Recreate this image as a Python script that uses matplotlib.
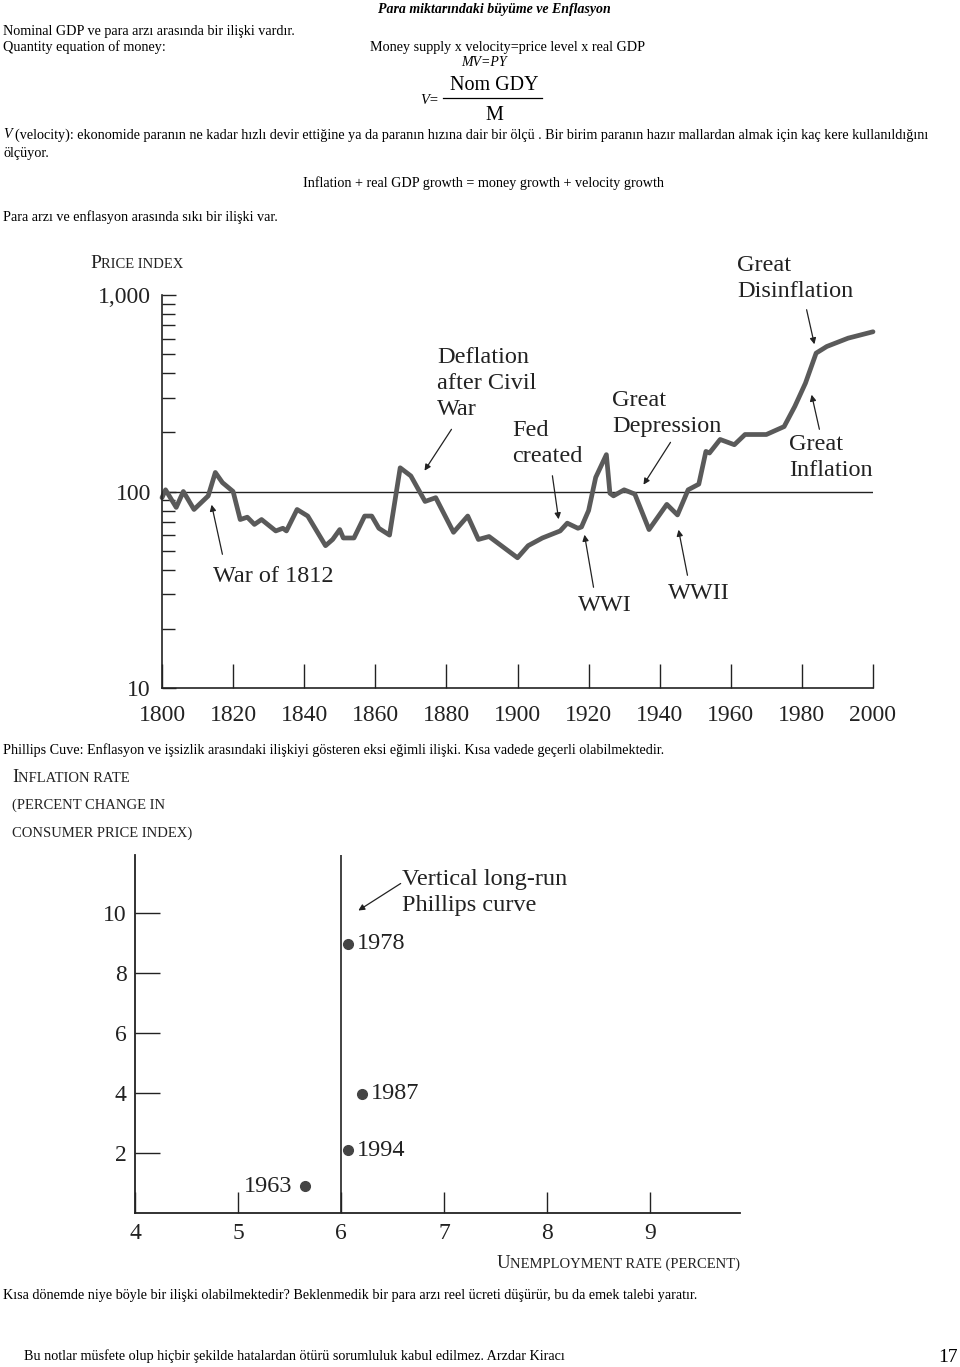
import matplotlib
matplotlib.use('Agg')
import matplotlib.pyplot as plt
from matplotlib.offsetbox import TextArea, HPacker, AnnotationBbox
from matplotlib.ticker import LogLocator, NullFormatter

plt.rcParams['font.family'] = ['Liberation Serif', 'DejaVu Serif']

# ---------------- data ----------------
price_years = [1800, 1801, 1804, 1806, 1809, 1813, 1815, 1817, 1820, 1822, 1824, 1826,
               1828, 1832, 1834, 1835, 1838, 1841, 1846, 1848, 1850, 1851, 1854, 1857,
               1859, 1861, 1864, 1867, 1870, 1874, 1877, 1882, 1886, 1889, 1892, 1900,
               1903, 1907, 1912, 1914, 1917, 1918, 1920, 1922, 1925, 1926, 1927, 1930,
               1933, 1937, 1942, 1945, 1948, 1951, 1953, 1954, 1957, 1961, 1964, 1970,
               1975, 1978, 1981, 1984, 1987, 1993, 2000]
price_index = [93, 102, 83, 100, 81, 95, 125, 111, 100, 72, 74, 68,
               72, 63, 65, 63, 81, 75, 53, 57, 64, 58, 58, 75,
               75, 65, 60, 132, 120, 89, 93, 62, 75, 57, 59, 46,
               53, 58, 63, 69, 65, 66, 80, 118, 154, 98, 95, 102,
               97, 64, 86, 76, 102, 109, 160, 157, 184, 173, 195, 195,
               214, 271, 356, 506, 547, 603, 650]
price_xticks = [1800, 1820, 1840, 1860, 1880, 1900, 1920, 1940, 1960, 1980, 2000]
price_yticks = [10, 100, 1000]
price_ytick_labels = ['10', '100', '1,000']

phillips_years = ['1963', '1978', '1987', '1994']
phillips_unemp = [5.65, 6.07, 6.2, 6.07]
phillips_infl = [0.9, 8.97, 3.97, 2.1]
phillips_xticks = [4, 5, 6, 7, 8, 9]
phillips_yticks = [2, 4, 6, 8, 10]
natural_rate = 6

# ---------------- figure ----------------
W, H = 960, 1367
fig = plt.figure(figsize=(W / 100, H / 100), dpi=100)


def fx(x):
    return x / W


def fy(y):
    return 1 - y / H


BODY = 10.2


def T(x, y, s, **kw):
    kw.setdefault('fontsize', BODY)
    kw.setdefault('va', 'center')
    return fig.text(fx(x), fy(y), s, **kw)


def smallcaps(x, y, parts, align=(0, 0.5)):
    children = [TextArea(s, textprops=dict(fontsize=sz, color='#222222'))
                for s, sz in parts]
    box = HPacker(children=children, align='baseline', pad=0, sep=0)
    ab = AnnotationBbox(box, (x, H - y), xycoords='figure pixels', frameon=False,
                        box_alignment=align, pad=0)
    fig.add_artist(ab)


def arrow(x0, y0, x1, y1):
    fig.add_artist(matplotlib.patches.FancyArrowPatch(
        (fx(x0), fy(y0)), (fx(x1), fy(y1)), transform=fig.transFigure,
        arrowstyle='-|>', mutation_scale=9, lw=0.9, color='#222222'))


# ---------------- page text ----------------
T(494, 9, 'Para miktarındaki büyüme ve Enflasyon', ha='center', fontsize=10,
  weight='bold', style='italic')
T(3, 31, 'Nominal GDP ve para arzı arasında bir ilişki vardır.')
T(3, 47, 'Quantity equation of money:')
T(508, 47, 'Money supply x velocity=price level x real GDP', ha='center')
T(484, 63, 'MV=PY', ha='center', style='italic', fontsize=10)
T(494, 85, 'Nom GDY', ha='center', fontsize=14.5)
T(494, 115, 'M', ha='center', fontsize=14.5)
T(420, 101, 'V=', style='italic', fontsize=10.5)
fig.add_artist(matplotlib.lines.Line2D([fx(443), fx(542)], [fy(98), fy(98)],
                                       transform=fig.transFigure, color='black', lw=0.9))
T(3, 135, 'V', style='italic')
T(15, 135, '(velocity): ekonomide paranın ne kadar hızlı devir ettiğine ya da paranın hızına '
  'dair bir ölçü . Bir birim paranın hazır mallardan almak için kaç kere kullanıldığını')
T(3, 153, 'ölçüyor.')
T(483, 183, 'Inflation + real GDP growth = money growth + velocity growth', ha='center')
T(3, 217, 'Para arzı ve enflasyon arasında sıkı bir ilişki var.')
T(3, 750, 'Phillips Cuve: Enflasyon ve işsizlik arasındaki ilişkiyi gösteren eksi eğimli '
  'ilişki. Kısa vadede geçerli olabilmektedir.')
T(3, 1295, 'Kısa dönemde niye böyle bir ilişki olabilmektedir? Beklenmedik bir para arzı '
  'reel ücreti düşürür, bu da emek talebi yaratır.')
T(24, 1356, 'Bu notlar müsfete olup hiçbir şekilde hatalardan ötürü sorumluluk kabul '
  'edilmez. Arzdar Kiracı')
T(958, 1357, '17', ha='right', fontsize=14)

# ---------------- price index chart ----------------
ax1 = fig.add_axes([fx(162), fy(688), (873 - 162) / W, (688 - 295) / H])
ax1.set_facecolor('none')
ax1.set_xlim(1800, 2000)
ax1.set_yscale('log')
ax1.set_ylim(10, 1000)
ax1.axhline(100, color='#222222', lw=1.0, zorder=1)
ax1.plot(price_years, price_index, color='#5a5a5a', lw=3.4, solid_joinstyle='round',
         solid_capstyle='round', zorder=2, clip_on=False)
for s in ['top', 'right']:
    ax1.spines[s].set_visible(False)
for s in ['left', 'bottom']:
    ax1.spines[s].set_linewidth(1.2)
    ax1.spines[s].set_color('#222222')
ax1.set_xticks(price_xticks)
ax1.set_xticklabels([str(v) for v in price_xticks])
ax1.set_yticks(price_yticks)
ax1.set_yticklabels(price_ytick_labels)
ax1.yaxis.set_minor_locator(LogLocator(base=10, subs=[2, 3, 4, 5, 6, 7, 8, 9]))
ax1.yaxis.set_minor_formatter(NullFormatter())
ax1.tick_params(axis='x', direction='in', length=17, width=1.0, pad=12, labelsize=17,
                colors='#222222')
ax1.tick_params(axis='y', which='major', direction='in', length=10, width=1.0, pad=8,
                labelsize=17, colors='#222222')
ax1.tick_params(axis='y', which='minor', direction='in', length=9, width=1.0,
                colors='#222222')

smallcaps(90, 263, [('P', 14), ('RICE INDEX', 10.5)])

ann_kw = dict(fontsize=17.5, va='top', linespacing=1.32, color='#222222')
T(737, 255, 'Great\nDisinflation', **ann_kw)
arrow(806, 307, 815, 347)
T(437, 347, 'Deflation\nafter Civil\nWar', **ann_kw)
arrow(453, 427, 423, 473)
T(512, 420, 'Fed\ncreated', **ann_kw)
arrow(552, 473, 559, 522)
T(612, 390, 'Great\nDepression', **ann_kw)
arrow(672, 440, 642, 487)
T(789, 434, 'Great\nInflation', **ann_kw)
arrow(820, 432, 811, 392)
T(213, 566, 'War of 1812', **ann_kw)
arrow(223, 557, 211, 502)
T(578, 595, 'WWI', **ann_kw)
arrow(594, 590, 584, 532)
T(668, 583, 'WWII', **ann_kw)
arrow(688, 578, 678, 527)

# ---------------- Phillips chart ----------------
ax2 = fig.add_axes([fx(135), fy(1213), (740 - 135) / W, (1213 - 855) / H])
ax2.set_facecolor('none')
ax2.set_xlim(4, 4 + 605 / 103)
ax2.set_ylim(0, 358 / 30)
for s in ['top', 'right']:
    ax2.spines[s].set_visible(False)
for s in ['left', 'bottom']:
    ax2.spines[s].set_linewidth(1.3)
    ax2.spines[s].set_color('#222222')
ax2.axvline(natural_rate, color='#222222', lw=1.2)
ax2.plot(phillips_unemp, phillips_infl, 'o', ms=7, color='#444444', clip_on=False)
offsets = {'1963': (-13, 'right'), '1978': (9, 'left'), '1987': (9, 'left'),
           '1994': (9, 'left')}
for yr, u, v in zip(phillips_years, phillips_unemp, phillips_infl):
    dx, ha = offsets[yr]
    ax2.annotate(yr, (u, v), xytext=(dx, 0), textcoords='offset pixels', ha=ha,
                 va='center', fontsize=17.5, color='#222222')
ax2.set_xticks(phillips_xticks)
ax2.set_xticklabels([str(v) for v in phillips_xticks])
ax2.set_yticks(phillips_yticks)
ax2.set_yticklabels([str(v) for v in phillips_yticks])
ax2.tick_params(axis='x', direction='in', length=15, width=1.0, pad=7, labelsize=17,
                colors='#222222')
ax2.tick_params(axis='y', direction='in', length=18, width=1.0, pad=6, labelsize=17,
                colors='#222222')

T(402, 869, 'Vertical long-run\nPhillips curve', **ann_kw)
arrow(403, 882, 356, 912)

smallcaps(12, 777, [('I', 13.5), ('NFLATION RATE', 10.5)])
smallcaps(12, 805, [('(PERCENT CHANGE IN', 10.5)])
smallcaps(12, 833, [('CONSUMER PRICE INDEX)', 10.5)])
smallcaps(740, 1263, [('U', 13.5), ('NEMPLOYMENT RATE (PERCENT)', 10.5)], align=(1, 0.5))

fig.savefig('out.png', dpi=100)
